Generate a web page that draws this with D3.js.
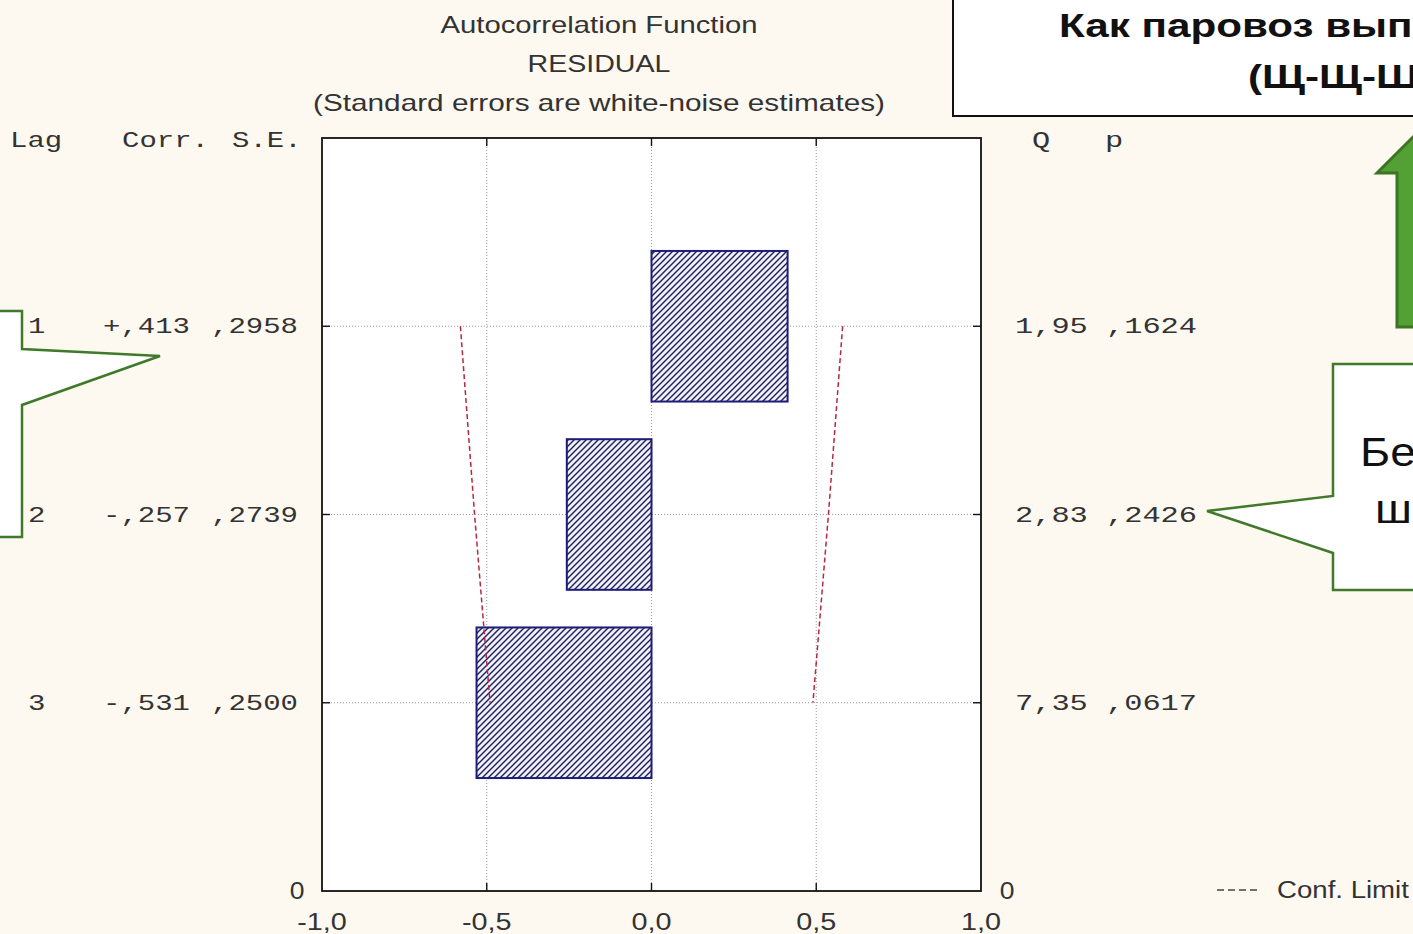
<!DOCTYPE html>
<html><head><meta charset="utf-8">
<script src="https://cdn.jsdelivr.net/npm/d3@7"></script>
<style>html,body{margin:0;padding:0;background:#fdf9f0;overflow:hidden}</style>
</head><body>
<svg id="c" width="1413" height="934"></svg>
<script>
// ---- data ----
const lags = [1, 2, 3];
const corr = [0.413, -0.257, -0.531];
const stdErr = [0.2958, 0.2739, 0.2500];
const qStat = [1.95, 2.83, 7.35];
const pVal = [0.1624, 0.2426, 0.0617];
const confLimit = [0.580, 0.537, 0.490];
const xTicks = [-1, -0.5, 0, 0.5, 1];
const xTickLabels = ["-1,0", "-0,5", "0,0", "0,5", "1,0"];
const titleLines = ["Autocorrelation Function", "RESIDUAL", "(Standard errors are white-noise estimates)"];
const leftHeaders = ["Lag", "Corr.", "S.E."];
const rightHeaders = ["Q", "p"];
const legendLabel = "Conf. Limit";
const bannerLines = ["Как паровоз вып", "(Щ-Щ-Ш"];
const calloutLines = ["Бе", "ш"];

const svg = d3.select("#c");
const W = 1413, H = 934;
svg.append("rect").attr("width", W).attr("height", H).attr("fill", "#fdf9f0");

const m = {l: 322, r: 981, t: 138, b: 891};
const x = d3.scaleLinear().domain([-1, 1]).range([m.l, m.r]);
const y = d3.scaleLinear().domain([0, 4]).range([m.t, m.b]);
const step = y(1) - y(0);

const sans = "'Liberation Sans', Arial, sans-serif";
const mono = "'Liberation Mono', 'Courier New', monospace";

function stretch(sel, f) {
  sel.each(function () {
    const w = this.getComputedTextLength();
    this.setAttribute("textLength", w * f);
    this.setAttribute("lengthAdjust", "spacingAndGlyphs");
  });
  return sel;
}
function fixLen(sel, len) {
  sel.attr("textLength", len).attr("lengthAdjust", "spacingAndGlyphs");
  return sel;
}
function monoText(xx, yy, str, cw) {
  const t = svg.append("text").attr("x", xx).attr("y", yy).text(str)
    .attr("font-family", mono).attr("font-size", 22).attr("fill", "#333");
  return fixLen(t, str.length * cw);
}

// pattern
const defs = svg.append("defs");
const pat = defs.append("pattern").attr("id", "hatch").attr("patternUnits", "userSpaceOnUse")
  .attr("width", 6).attr("height", 6);
pat.append("rect").attr("width", 6).attr("height", 6).attr("fill", "#f1f1fa");
pat.append("path").attr("d", "M0,6 L6,0 M-1,1 L1,-1 M5,7 L7,5")
  .attr("stroke", "#262664").attr("stroke-width", 1.5);

// titles
const titleLens = [317, 143, 572];
titleLines.forEach((s, i) => {
  fixLen(svg.append("text").attr("x", 599).attr("y", 33 + i * 39).attr("text-anchor", "middle")
    .attr("font-family", sans).attr("font-size", 24).attr("fill", "#333").text(s), titleLens[i]);
});

// plot area
svg.append("rect").attr("x", m.l).attr("y", m.t).attr("width", m.r - m.l).attr("height", m.b - m.t)
  .attr("fill", "#fff");

// grid
const grid = svg.append("g").attr("stroke", "#9a9a9a").attr("stroke-width", 1).attr("stroke-dasharray", "1,2");
grid.selectAll("line.v").data(xTicks.slice(1, -1)).join("line")
  .attr("x1", d => x(d)).attr("x2", d => x(d)).attr("y1", m.t).attr("y2", m.b);
grid.selectAll("line.h").data(lags).join("line").attr("class", "h")
  .attr("x1", m.l).attr("x2", m.r).attr("y1", d => y(d)).attr("y2", d => y(d));

// bars
svg.selectAll("rect.bar").data(lags).join("rect").attr("class", "bar")
  .attr("x", (d, i) => x(Math.min(0, corr[i])))
  .attr("width", (d, i) => Math.abs(x(corr[i]) - x(0)))
  .attr("y", d => y(d) - step * 0.4)
  .attr("height", step * 0.8)
  .attr("fill", "url(#hatch)").attr("stroke", "#1c1c7a").attr("stroke-width", 2);

// confidence limits
const lineL = d3.line().x((d, i) => x(-confLimit[i])).y(d => y(d));
const lineR = d3.line().x((d, i) => x(confLimit[i])).y(d => y(d));
[lineL, lineR].forEach(l => svg.append("path").attr("d", l(lags)).attr("fill", "none")
  .attr("stroke", "#b8283c").attr("stroke-width", 1.5).attr("stroke-dasharray", "5,3"));

// frame and ticks
svg.append("rect").attr("x", m.l).attr("y", m.t).attr("width", m.r - m.l).attr("height", m.b - m.t)
  .attr("fill", "none").attr("stroke", "#111").attr("stroke-width", 1.8);
const tk = svg.append("g").attr("stroke", "#111").attr("stroke-width", 1.4);
xTicks.slice(1, -1).forEach(v => {
  tk.append("line").attr("x1", x(v)).attr("x2", x(v)).attr("y1", m.b).attr("y2", m.b - 8);
  tk.append("line").attr("x1", x(v)).attr("x2", x(v)).attr("y1", m.t).attr("y2", m.t + 8);
});
lags.forEach(v => {
  tk.append("line").attr("x1", m.l).attr("x2", m.l + 8).attr("y1", y(v)).attr("y2", y(v));
  tk.append("line").attr("x1", m.r).attr("x2", m.r - 8).attr("y1", y(v)).attr("y2", y(v));
});

// x tick labels
xTicks.forEach((v, i) => {
  stretch(svg.append("text").attr("x", x(v)).attr("y", 930).attr("text-anchor", "middle")
    .attr("font-family", sans).attr("font-size", 24).attr("fill", "#333").text(xTickLabels[i]), 1.2);
});
[297, 1007].forEach(xx => stretch(svg.append("text").attr("x", xx).attr("y", 899).attr("text-anchor", "middle")
  .attr("font-family", sans).attr("font-size", 23).attr("fill", "#333").text("0"), 1.15));

// left table
const fmtCorr = v => (v >= 0 ? "+" : "-") + "," + Math.abs(v).toFixed(3).slice(2);
const fmtSE = v => "," + v.toFixed(4).slice(2);
const fmtQ = v => v.toFixed(2).replace(".", ",");
monoText(10, 147, leftHeaders[0], 17.4);
monoText(122, 147, leftHeaders[1], 17.4);
monoText(232, 147, leftHeaders[2], 17.4);
lags.forEach((l, i) => {
  monoText(28, y(l) + 7, String(l), 17.4);
  monoText(103, y(l) + 7, fmtCorr(corr[i]), 17.4);
  monoText(211, y(l) + 7, fmtSE(stdErr[i]), 17.4);
});
// right table
monoText(1032, 147, rightHeaders[0], 18.2);
monoText(1105, 147, rightHeaders[1], 18.2);
lags.forEach((l, i) => {
  monoText(1015, y(l) + 7, fmtQ(qStat[i]), 18.2);
  monoText(1106, y(l) + 7, fmtSE(pVal[i]), 18.2);
});

// legend
svg.append("line").attr("x1", 1217).attr("x2", 1260).attr("y1", 890).attr("y2", 890)
  .attr("stroke", "#444").attr("stroke-width", 1.5).attr("stroke-dasharray", "7,4");
stretch(svg.append("text").attr("x", 1277).attr("y", 898).attr("font-family", sans).attr("font-size", 23)
  .attr("fill", "#333").text(legendLabel), 1.2);

// overlays: banner box
svg.append("rect").attr("x", 953).attr("y", -10).attr("width", 520).attr("height", 126)
  .attr("fill", "#fff").attr("stroke", "#111").attr("stroke-width", 2);
stretch(svg.append("text").attr("x", 1059).attr("y", 37).attr("font-family", sans).attr("font-weight", "bold")
  .attr("font-size", 34).attr("fill", "#111").text(bannerLines[0]), 1.24);
stretch(svg.append("text").attr("x", 1248).attr("y", 88).attr("font-family", sans).attr("font-weight", "bold")
  .attr("font-size", 34).attr("fill", "#111").text(bannerLines[1]), 1.24);

// green arrow
svg.append("path").attr("d", "M1397,327 L1397,173 L1377,173 L1422,128 L1467,173 L1447,173 L1447,327 Z")
  .attr("fill", "#53a035").attr("stroke", "#3d7424").attr("stroke-width", 3);

// left callout
svg.append("path").attr("d", "M-5,311 L22,311 L22,349 L160,356 L22,405 L22,537 L-5,537 Z")
  .attr("fill", "#fff").attr("stroke", "#3f7a2a").attr("stroke-width", 2.5);
// right callout
svg.append("path").attr("d", "M1333,364 L1430,364 L1430,590 L1333,590 L1333,553 L1207,511 L1333,496 Z")
  .attr("fill", "#fff").attr("stroke", "#3f7a2a").attr("stroke-width", 2.5);
stretch(svg.append("text").attr("x", 1360).attr("y", 466).attr("font-family", sans).attr("font-size", 40)
  .attr("fill", "#111").text(calloutLines[0]), 1.15);
stretch(svg.append("text").attr("x", 1375).attr("y", 523).attr("font-family", sans).attr("font-size", 40)
  .attr("fill", "#111").text(calloutLines[1]), 1.15);
</script>
</body></html>
